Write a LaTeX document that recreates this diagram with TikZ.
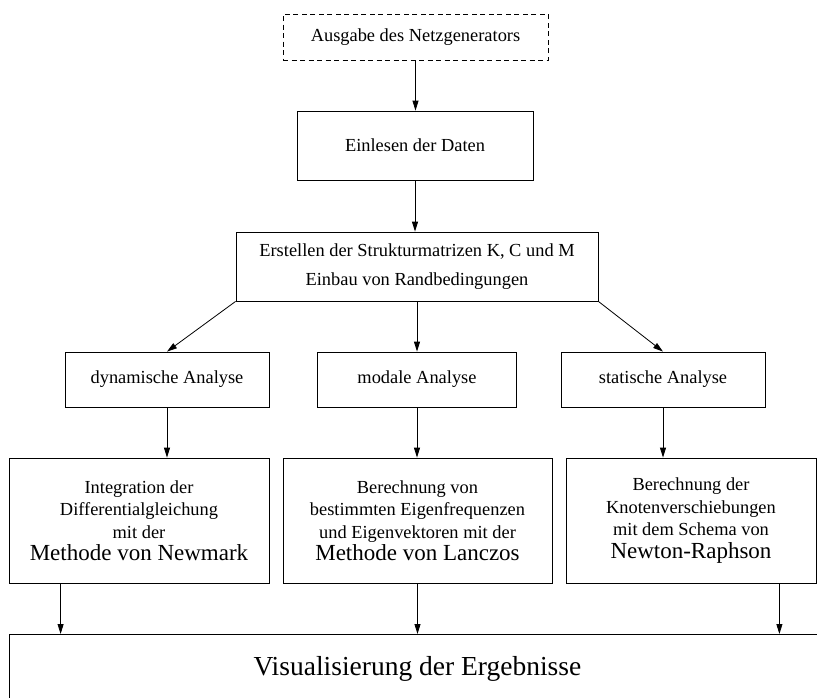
\documentclass[tikz,border=0pt]{standalone}
\usepackage{fontspec}
\setmainfont{Liberation Serif}
\usetikzlibrary{arrows.meta}
\newcommand{\methfont}{\fontsize{23}{27}\selectfont}

\begin{document}
\begin{tikzpicture}[x=1pt,y=-1pt,>={Triangle[length=10pt,width=6pt]}]
\tikzset{box/.style={draw,line width=0.8pt,inner sep=0pt,align=center,font=\fontsize{18.4}{22.5}\selectfont},
  flow/.style={->,line width=0.8pt}}
\clip (0,0) rectangle (817,697);
\node[box,dash pattern=on 5pt off 3.5pt,minimum width=265pt,minimum height=46pt] (netz) at (415.5,37) {Ausgabe des Netzgenerators};
\node[box,minimum width=236pt,minimum height=69pt] (einl) at (415,145.5) {Einlesen der Daten};
\node[box,minimum width=362pt,minimum height=69pt,font=\fontsize{18.4}{29}\selectfont] (struk) at (417,266.5) {Erstellen der Strukturmatrizen K, C und M\\Einbau von Randbedingungen};
\node[box,minimum width=204pt,minimum height=55pt] (dyn) at (167,379.5) {dynamische Analyse};
\node[box,minimum width=199pt,minimum height=55pt] (modal) at (417,379.5) {modale Analyse};
\node[box,minimum width=204pt,minimum height=55pt] (stat) at (663,379.5) {statische Analyse};
\node[box,minimum width=260pt,minimum height=125pt] (newm) at (139,520.5) {Integration der\\Differentialgleichung\\mit der\\{\methfont Methode von Newmark}};
\node[box,minimum width=269pt,minimum height=125pt] (lanc) at (417.5,520.5) {Berechnung von\\bestimmten Eigenfrequenzen\\und Eigenvektoren mit der\\{\methfont Methode von Lanczos}};
\node[box,minimum width=250pt,minimum height=125pt] (raph) at (691,520.5) {Berechnung der\\Knotenverschiebungen\\mit dem Schema von\\{\methfont Newton-Raphson}};
\node[box,anchor=north west,minimum width=816pt,text height=41pt,text depth=60pt,font=\fontsize{27.5}{33}\selectfont] (vis) at (9,634) {Visualisierung der Ergebnisse};
% Verbindungen
\draw[flow] (netz.south) -- (netz.south |- einl.north);
\draw[flow] (einl.south) -- (einl.south |- struk.north);
\draw[flow] (struk.south west) -- (dyn.north);
\draw[flow] (struk.south) -- (struk.south |- modal.north);
\draw[flow] (struk.south east) -- (stat.north);
\draw[flow] (dyn.south) -- (dyn.south |- newm.north);
\draw[flow] (modal.south) -- (modal.south |- lanc.north);
\draw[flow] (stat.south) -- (stat.south |- raph.north);
\coordinate (o1) at ([xshift=52pt]newm.south west);
\coordinate (o3) at ([xshift=-37pt]raph.south east);
\draw[flow] (o1) -- (o1 |- vis.north);
\draw[flow] (lanc.south) -- (lanc.south |- vis.north);
\draw[flow] (o3) -- (o3 |- vis.north);
\end{tikzpicture}
\end{document}
